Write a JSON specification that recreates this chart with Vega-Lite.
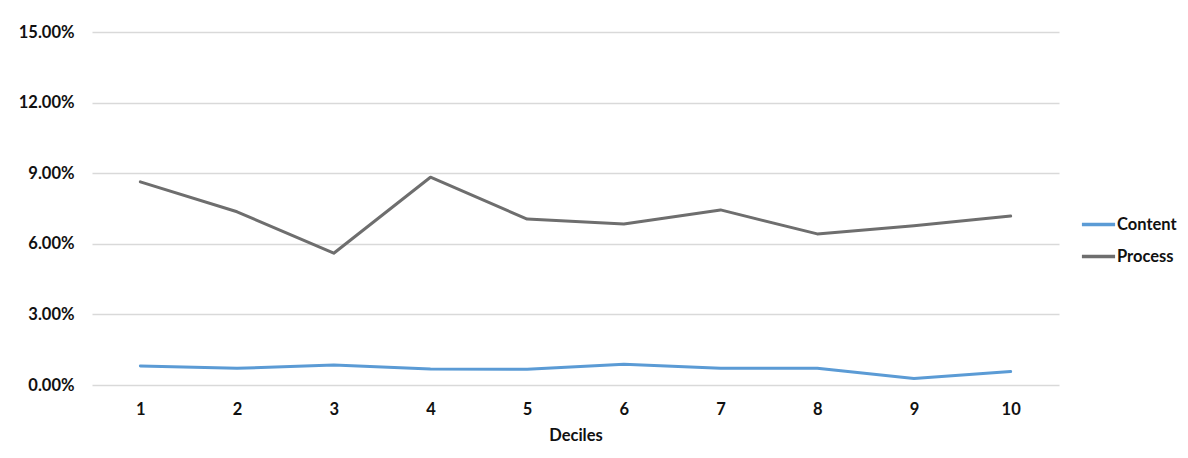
{
  "$schema": "https://vega.github.io/schema/vega-lite/v6.json",
  "width": 967,
  "height": 353,
  "autosize": {"type": "none"},
  "padding": {"left": 92, "top": 32, "right": 129, "bottom": 73},
  "background": "white",
  "data": {
    "values": [
      {"decile": "1", "series": "Content", "value": 0.0081},
      {"decile": "2", "series": "Content", "value": 0.0071},
      {"decile": "3", "series": "Content", "value": 0.0085},
      {"decile": "4", "series": "Content", "value": 0.0068},
      {"decile": "5", "series": "Content", "value": 0.0067},
      {"decile": "6", "series": "Content", "value": 0.0088},
      {"decile": "7", "series": "Content", "value": 0.0071},
      {"decile": "8", "series": "Content", "value": 0.0071},
      {"decile": "9", "series": "Content", "value": 0.0028},
      {"decile": "10", "series": "Content", "value": 0.0057},
      {"decile": "1", "series": "Process", "value": 0.0863},
      {"decile": "2", "series": "Process", "value": 0.0736},
      {"decile": "3", "series": "Process", "value": 0.0560},
      {"decile": "4", "series": "Process", "value": 0.0883},
      {"decile": "5", "series": "Process", "value": 0.0705},
      {"decile": "6", "series": "Process", "value": 0.0684},
      {"decile": "7", "series": "Process", "value": 0.0744},
      {"decile": "8", "series": "Process", "value": 0.0642},
      {"decile": "9", "series": "Process", "value": 0.0677},
      {"decile": "10", "series": "Process", "value": 0.0718}
    ]
  },
  "mark": {"type": "line", "strokeWidth": 3, "strokeCap": "round", "strokeJoin": "round"},
  "encoding": {
    "x": {
      "field": "decile",
      "type": "ordinal",
      "sort": ["1","2","3","4","5","6","7","8","9","10"],
      "scale": {"type": "point", "padding": 0.5},
      "axis": {
        "title": "Deciles",
        "labelAngle": 0,
        "domain": false,
        "ticks": false,
        "grid": false,
        "labelPadding": 16,
        "titlePadding": 10
      }
    },
    "y": {
      "field": "value",
      "type": "quantitative",
      "scale": {"domain": [0, 0.15], "nice": false, "zero": true},
      "axis": {
        "title": null,
        "format": ".2%",
        "values": [0, 0.03, 0.06, 0.09, 0.12, 0.15],
        "domain": false,
        "ticks": false,
        "grid": true,
        "gridColor": "#d9d9d9",
        "gridWidth": 1.3,
        "labelPadding": 18
      }
    },
    "color": {
      "field": "series",
      "type": "nominal",
      "scale": {"domain": ["Content", "Process"], "range": ["#5b9bd5", "#6e6e6e"]},
      "legend": {
        "title": null,
        "orient": "none",
        "legendX": 988,
        "legendY": 174,
        "symbolType": "stroke",
        "symbolSize": 1100,
        "symbolStrokeWidth": 3.5,
        "rowPadding": 5,
        "labelOffset": 0
      }
    }
  },
  "config": {
    "view": {"stroke": null},
    "font": "Lato",
    "axis": {
      "labelFont": "Lato",
      "labelFontSize": 16.5,
      "labelFontWeight": "bold",
      "labelColor": "#111111",
      "titleFont": "Lato",
      "titleFontSize": 16.5,
      "titleFontWeight": "bold",
      "titleColor": "#111111"
    },
    "legend": {
      "labelFont": "Lato",
      "labelFontSize": 16.5,
      "labelFontWeight": "bold",
      "labelColor": "#111111"
    }
  }
}
